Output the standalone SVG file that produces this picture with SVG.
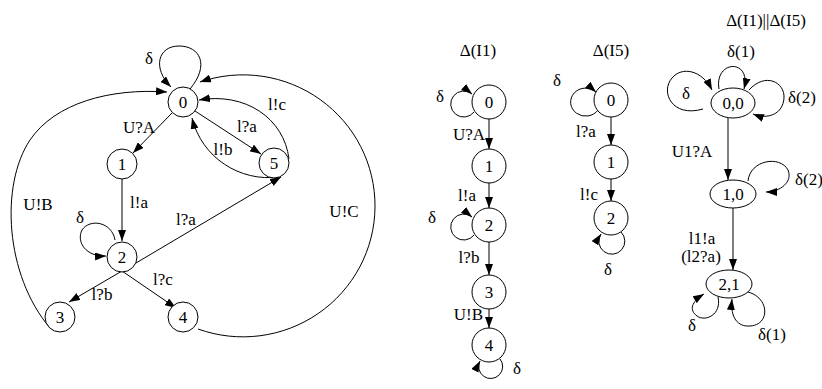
<svg xmlns="http://www.w3.org/2000/svg" width="822" height="389" viewBox="0 0 822 389" font-family="'Liberation Serif', 'DejaVu Serif', serif" font-size="17">
<style>
text{font-family:'Liberation Serif','DejaVu Serif',serif;font-size:17px;fill:#000}
.c{text-anchor:middle}
.e{text-anchor:end}
.n{fill:#fff;stroke:#000;stroke-width:1}
.l{fill:none;stroke:#000;stroke-width:1;marker-end:url(#a)}
</style>
<defs>
<marker id="a" markerUnits="userSpaceOnUse" markerWidth="11" markerHeight="8" refX="11" refY="4" orient="auto"><path d="M0,0 L11,4 L0,8 z" fill="#000"/></marker>
</defs>
<rect width="822" height="389" fill="#fff"/>
<g id="connectors">
<path class="l" d="M190,89 C210,65 200,46 179,46 C158,46 152,68 171,87"/>
<path class="l" d="M172,113 L133,153"/>
<path class="l" d="M195,111 L261,154"/>
<path class="l" d="M279,177 C240,182 202,158 192,118"/>
<path class="l" d="M289,159 C284,118 245,92 199,100"/>
<path class="l" d="M198,329 A132 131 0 1 0 200,82"/>
<path class="l" d="M50,328 C5,275 0,185 30,140 C55,103 110,88 167,92"/>
<path class="l" d="M122,179 L122,241"/>
<path class="l" d="M115,240 C112,222 90,218 82,230 C76,242 86,257 106,256"/>
<path class="l" d="M136,263 L281,177"/>
<path class="l" d="M122,271 L69,302"/>
<path class="l" d="M122,271 L176,308"/>
<path class="l" d="M489,119 L489,149"/>
<path class="l" d="M489,183 L489,208"/>
<path class="l" d="M489,242 L489,275"/>
<path class="l" d="M489,309 L489,328"/>
<path class="l" d="M474,112 A13 13 0 1 1 472,94"/>
<path class="l" d="M474,235 A13 13 0 1 1 472,217"/>
<path class="l" d="M500,359 A12 12 0 1 1 480,361"/>
<path class="l" d="M611,117 L611,145"/>
<path class="l" d="M611,179 L611,201"/>
<path class="l" d="M598,110 A15 14 0 1 1 596,92"/>
<path class="l" d="M621,232 A13 13 0 1 1 601,234"/>
<path class="l" d="M728,118 L728,180"/>
<path class="l" d="M733,208 L733,270"/>
<path class="l" d="M719,89 C714,60 752,58 744,89"/>
<path class="l" d="M703,109 C672,118 660,92 672,78 C682,66 702,70 712,90"/>
<path class="l" d="M749,90 C765,72 785,82 784,98 C783,114 768,120 753,114"/>
<path class="l" d="M748,181 C750,160 780,155 788,170 C793,182 780,192 766,192"/>
<path class="l" d="M718,297 C722,315 705,322 697,316 C689,310 691,302 704,294"/>
<path class="l" d="M748,292 C770,298 770,325 750,326 C738,327 730,318 732,299"/>
</g>
<g id="edge-labels">
<text x="149" y="64" class="c">δ</text>
<text x="139" y="133" class="c">U?A</text>
<text x="247" y="132" class="c">l?a</text>
<text x="223" y="155" class="c">l!b</text>
<text x="277" y="110" class="c">l!c</text>
<text x="344" y="217" class="c">U!C</text>
<text x="38" y="210" class="c">U!B</text>
<text x="139" y="208" class="c">l!a</text>
<text x="80" y="223" class="c">δ</text>
<text x="186" y="225" class="c">l?a</text>
<text x="102" y="300" class="c">l?b</text>
<text x="163" y="285" class="c">l?c</text>
<text x="478" y="56" class="c">Δ(I1)</text>
<text x="440" y="102" class="c">δ</text>
<text x="485" y="140" class="e">U?A</text>
<text x="467" y="201" class="c">l!a</text>
<text x="432" y="223" class="c">δ</text>
<text x="469" y="263" class="c">l?b</text>
<text x="483" y="320" class="e">U!B</text>
<text x="517" y="374" class="c">δ</text>
<text x="611" y="56" class="c">Δ(I5)</text>
<text x="557" y="86" class="c">δ</text>
<text x="586" y="137" class="c">l?a</text>
<text x="589" y="200" class="c">l!c</text>
<text x="608" y="275" class="c">δ</text>
<text x="766" y="26" class="c">Δ(I1)||Δ(I5)</text>
<text x="741" y="57" class="c">δ(1)</text>
<text x="686" y="99" class="c">δ</text>
<text x="788" y="103">δ(2)</text>
<text x="692" y="157" class="c">U1?A</text>
<text x="795" y="185">δ(2)</text>
<text x="702" y="244" class="c">l1!a</text>
<text x="701" y="262" class="c">(l2?a)</text>
<text x="692" y="331" class="c">δ</text>
<text x="772" y="340" class="c">δ(1)</text>
</g>
<g id="L0"><circle class="n" cx="183" cy="102" r="15"/><text x="183" y="108" class="c">0</text></g>
<g id="L1"><circle class="n" cx="122" cy="164" r="15"/><text x="122" y="170" class="c">1</text></g>
<g id="L5"><circle class="n" cx="274" cy="163" r="15"/><text x="274" y="169" class="c">5</text></g>
<g id="L2"><circle class="n" cx="122" cy="257" r="15"/><text x="122" y="263" class="c">2</text></g>
<g id="L3"><circle class="n" cx="60" cy="317" r="15"/><text x="60" y="323" class="c">3</text></g>
<g id="L4"><circle class="n" cx="183" cy="317" r="15"/><text x="183" y="323" class="c">4</text></g>
<g id="M0"><circle class="n" cx="489" cy="102" r="17"/><text x="489" y="108" class="c">0</text></g>
<g id="M1"><circle class="n" cx="489" cy="166" r="17"/><text x="489" y="172" class="c">1</text></g>
<g id="M2"><circle class="n" cx="489" cy="225" r="17"/><text x="489" y="231" class="c">2</text></g>
<g id="M3"><circle class="n" cx="489" cy="292" r="17"/><text x="489" y="298" class="c">3</text></g>
<g id="M4"><circle class="n" cx="489" cy="345" r="17"/><text x="489" y="351" class="c">4</text></g>
<g id="R0"><circle class="n" cx="611" cy="100" r="17"/><text x="611" y="106" class="c">0</text></g>
<g id="R1"><circle class="n" cx="611" cy="162" r="17"/><text x="611" y="168" class="c">1</text></g>
<g id="R2"><circle class="n" cx="611" cy="218" r="17"/><text x="611" y="224" class="c">2</text></g>
<g id="P00"><ellipse class="n" cx="733" cy="103" rx="22" ry="15"/><text x="733" y="109" class="c">0,0</text></g>
<g id="P10"><ellipse class="n" cx="733" cy="194" rx="23" ry="14"/><text x="733" y="200" class="c">1,0</text></g>
<g id="P21"><ellipse class="n" cx="729" cy="284" rx="23" ry="14"/><text x="729" y="290" class="c">2,1</text></g>
</svg>
